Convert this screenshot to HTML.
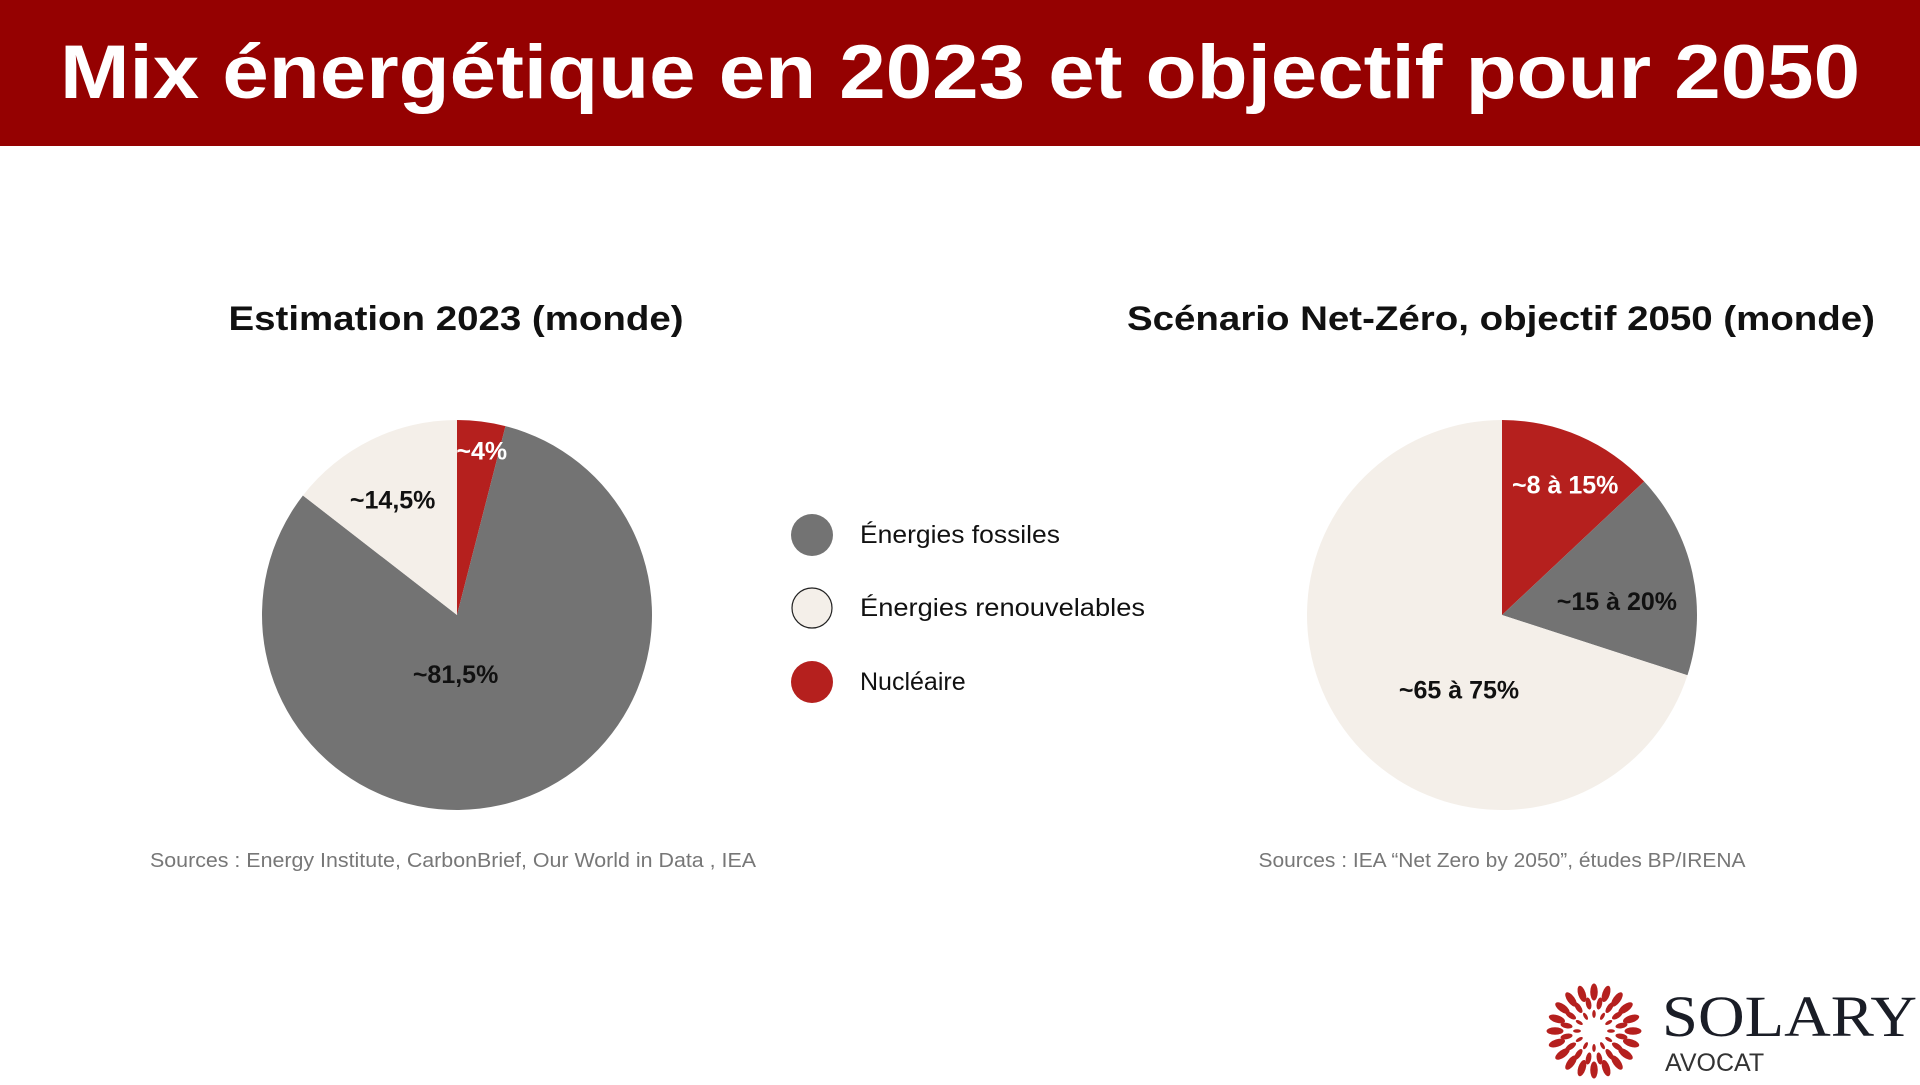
<!DOCTYPE html>
<html><head><meta charset="utf-8"><style>
body{margin:0;width:1920px;height:1080px;background:#fff;overflow:hidden;font-family:"Liberation Sans",sans-serif}
</style></head><body>
<svg width="1920" height="1080" xmlns="http://www.w3.org/2000/svg" id="chart">
<rect x="0" y="0" width="1920" height="146" fill="#950101"/>
<text x="960" y="98" text-anchor="middle" fill="#fff" font-weight="bold" font-size="76" textLength="1800" lengthAdjust="spacingAndGlyphs">Mix énergétique en 2023 et objectif pour 2050</text>
<text x="456" y="330" text-anchor="middle" font-weight="bold" font-size="34" fill="#111" textLength="455" lengthAdjust="spacingAndGlyphs">Estimation 2023 (monde)</text>
<text x="1501" y="330" text-anchor="middle" font-weight="bold" font-size="34" fill="#111" textLength="748" lengthAdjust="spacingAndGlyphs">Scénario Net-Zéro, objectif 2050 (monde)</text>
<g id="pie1"></g>
<g id="pie2"></g>
<g font-size="25" fill="#111">
<circle cx="812" cy="535" r="21" fill="#737373"/>
<text x="860" y="543" textLength="200" lengthAdjust="spacingAndGlyphs">Énergies fossiles</text>
<circle cx="812" cy="608" r="20" fill="#f4efe9" stroke="#222" stroke-width="1.2"/>
<text x="860" y="616" textLength="285" lengthAdjust="spacingAndGlyphs">Énergies renouvelables</text>
<circle cx="812" cy="682" r="21" fill="#b5201e"/>
<text x="860" y="690">Nucléaire</text>
</g>
<text x="453" y="867" text-anchor="middle" font-size="20" fill="#777" textLength="606" lengthAdjust="spacingAndGlyphs">Sources : Energy Institute, CarbonBrief, Our World in Data , IEA</text>
<text x="1502" y="867" text-anchor="middle" font-size="20" fill="#777" textLength="487" lengthAdjust="spacingAndGlyphs">Sources :  IEA “Net Zero by 2050”, études BP/IRENA</text>
<g id="sun"></g>
<text x="1662" y="1036" font-family="Liberation Serif,serif" font-size="58" fill="#1a1d26" textLength="255" lengthAdjust="spacingAndGlyphs">SOLARY</text>
<text x="1665" y="1071" font-size="25" fill="#333">AVOCAT</text>
</svg>
<script>
const categories1=["Nucléaire","Énergies fossiles","Énergies renouvelables"];
const values1=[4,81.5,14.5];
const labels1=["~4%","~81,5%","~14,5%"];
const categories2=["Nucléaire","Énergies fossiles","Énergies renouvelables"];
const values2=[13,17,70];
const labels2=["~8 à 15%","~15 à 20%","~65 à 75%"];
const colors={"Nucléaire":"#b5201e","Énergies fossiles":"#737373","Énergies renouvelables":"#f4efe9"};
const labelColors={"Nucléaire":"#fff","Énergies fossiles":"#111","Énergies renouvelables":"#111"};
const NS="http://www.w3.org/2000/svg";
function pt(cx,cy,r,a){return [cx+r*Math.sin(a),cy-r*Math.cos(a)];}
function drawPie(g,cx,cy,r,cats,vals,labs,labR,nudge){
  const tot=vals.reduce((a,b)=>a+b,0);let start=0;
  cats.forEach((c,i)=>{
    const sweep=vals[i]/tot*2*Math.PI,end=start+sweep;
    const p0=pt(cx,cy,r,start),p1=pt(cx,cy,r,end);
    const p=document.createElementNS(NS,"path");
    p.setAttribute("d",`M${cx},${cy}L${p0[0]},${p0[1]}A${r},${r} 0 ${sweep>Math.PI?1:0} 1 ${p1[0]},${p1[1]}Z`);
    p.setAttribute("fill",colors[c]);
    
    
    g.appendChild(p);
    start=end;
  });
  start=0;
  cats.forEach((c,i)=>{
    const sweep=vals[i]/tot*2*Math.PI,mid=start+sweep/2;
    const lr=r*labR[i];const q=pt(cx,cy,lr,mid);
    const t=document.createElementNS(NS,"text");
    t.setAttribute("x",q[0]+nudge[i][0]);t.setAttribute("y",q[1]+9+nudge[i][1]);
    t.setAttribute("text-anchor","middle");t.setAttribute("font-weight","bold");
    t.setAttribute("font-size","25");t.setAttribute("fill",labelColors[c]);
    t.textContent=labs[i];
    
    
    g.appendChild(t);
    start+=sweep;
  });
}
drawPie(document.getElementById("pie1"),457,615,195,categories1,values1,labels1,[0.85,0.31,0.75],[[4,0],[-21,2],[0,16]]);
drawPie(document.getElementById("pie2"),1502,615,195,categories2,values2,labels2,[0.7,0.63,0.38],[[9,-5],[-5,13],[17,31]]);
const sun=document.getElementById("sun");
[[17,2.2],[28,3.4],[39,4.7]].forEach(([rr,w],k)=>{
  const cnt=k==0?12:(k==1?16:20);
  for(let i=0;i<cnt;i++){
    const a=i/cnt*360+(k%2?360/cnt/2:0);
    const e=document.createElementNS(NS,"ellipse");
    e.setAttribute("cx",0);e.setAttribute("cy",-rr);e.setAttribute("rx",w*0.8);e.setAttribute("ry",w*1.8);
    e.setAttribute("fill","#b5201e");
    e.setAttribute("transform",`translate(1594,1031) rotate(${a})`);
    
    
    sun.appendChild(e);
  }
});
</script>
</body></html>
